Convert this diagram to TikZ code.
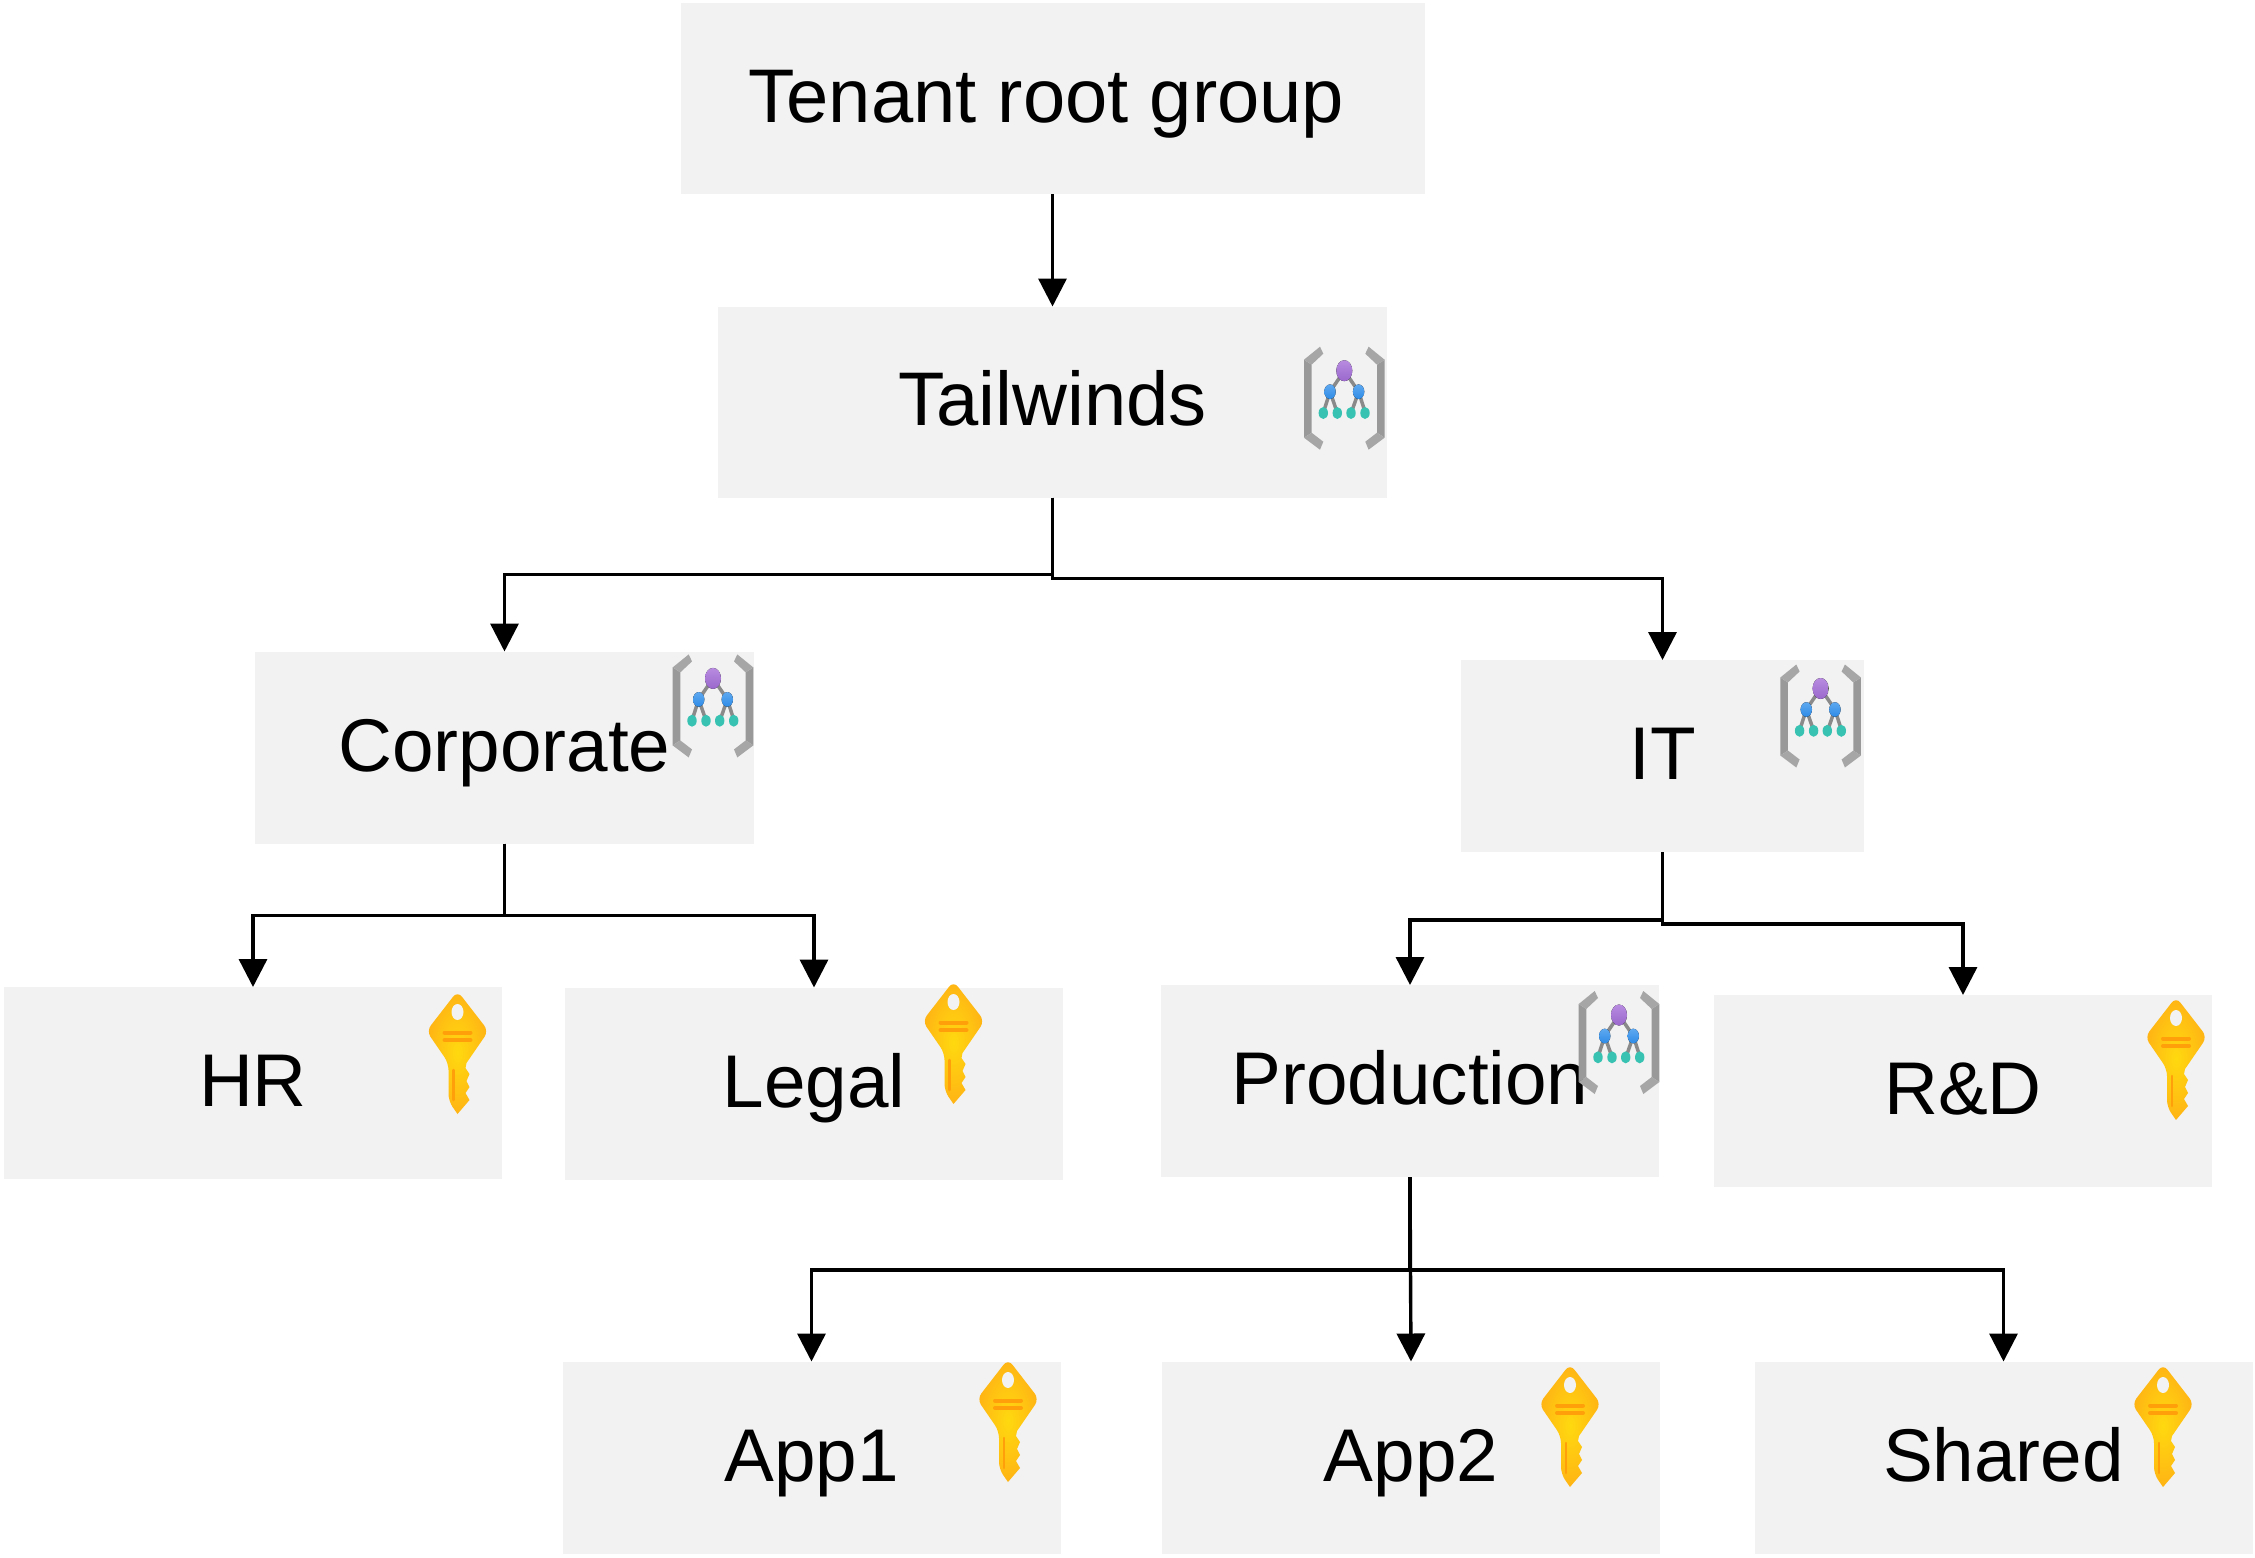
\documentclass[tikz,border=0pt]{standalone}
\usepackage{fontspec}
\setmainfont{Liberation Sans}
\usetikzlibrary{arrows.meta}

\definecolor{boxgray}{HTML}{F2F2F2}
\definecolor{keylight}{HTML}{FFD90F}
\definecolor{keydark}{HTML}{FFB414}
\definecolor{keyslot}{HTML}{FFA00A}
\definecolor{brackgray}{HTML}{999999}
\definecolor{armgray}{HTML}{A6A6A6}
\definecolor{linkgray}{HTML}{8A8A8A}
\definecolor{dottop}{HTML}{B88BE0}
\definecolor{dotbottom}{HTML}{9A68CC}
\definecolor{bluetop}{HTML}{5EA8F0}
\definecolor{bluebottom}{HTML}{2F8CE6}
\definecolor{dotteal}{HTML}{37C2B1}

\tikzset{
    groupbox/.style={fill=boxgray, inner sep=0pt, outer sep=0pt, minimum width=498pt, minimum height=192pt,
        font=\fontsize{74.7}{90}\selectfont, text height=61pt, text depth=14pt},
    bigbox/.style={groupbox, font=\fontsize{76}{92}\selectfont},
    flow/.style={line width=3.4pt, -{Triangle[length=28pt,width=28pt]}},
    keyicon/.pic={
        \draw[rounded corners=7pt, draw=none, inner color=keylight, outer color=keydark]
            (0,-40) -- (-31,0) -- (-9,32) -- (-9,70) [sharp corners] -- (0,83) -- (12,69)
            -- (8,62) -- (12,56) -- (9,50) -- (12,43) -- (8,37) -- (9,32) [rounded corners=7pt] -- (31,0) -- cycle;
        \fill[white!95!black] (0,-19) ellipse (6 and 8);
        \draw[keyslot, line width=4pt, line cap=round] (-13,1.5) -- (13,1.5);
        \draw[keyslot, line width=4pt, line cap=round] (-13,9) -- (13,9);
        \draw[keyslot, line width=2.5pt, line cap=round] (-4,39) -- (-4,69);
    },
    mgicon/.pic={
        % Brackets
        \foreach \s in {1,-1} {
            \fill[brackgray] (\s*-40.3,-37) -- (\s*-32.7,-32) -- (\s*-32.7,36) -- (\s*-40.3,41) -- cycle;
            \fill[armgray] (\s*-24.3,-50) -- (\s*-40.3,-37) -- (\s*-32.7,-32) -- (\s*-21,-43) -- cycle;
            \fill[armgray] (\s*-24.3,53) -- (\s*-40.3,41) -- (\s*-32.7,36) -- (\s*-21,45) -- cycle;
        }
        % Links
        \draw[linkgray, line width=3.5pt] (-14.3,-5) -- (0,-26) -- (14.3,-5);
        \draw[linkgray, line width=3.5pt] (-21,16) -- (-14.3,-5) -- (-7,16);
        \draw[linkgray, line width=3.5pt] (21,16) -- (14.3,-5) -- (7,16);
        % Dots
        \fill[top color=dottop, bottom color=dotbottom] (0,-26) ellipse (8 and 10.5);
        \fill[top color=bluetop, bottom color=bluebottom] (-14.3,-5) ellipse (5.7 and 7.3);
        \fill[top color=bluetop, bottom color=bluebottom] (14.3,-5) ellipse (5.7 and 7.3);
        \fill[dotteal] (-21,16.3) ellipse (4.7 and 6);
        \fill[dotteal] (-7,16.3) ellipse (4.7 and 6);
        \fill[dotteal] (6.7,16.3) ellipse (4.7 and 6);
        \fill[dotteal] (20.7,16.3) ellipse (4.7 and 6);
    }
}

\begin{document}
\begin{tikzpicture}[x=1pt,y=-1pt]
    \useasboundingbox (0,0) rectangle (2255,1558);

    % Boxes
    \node[bigbox, minimum width=744pt, minimum height=191pt] (root) at (1052.5,98.5) {Tenant root group\hspace*{12pt}};
    \node[bigbox, minimum width=669pt, minimum height=191pt] (tailwinds) at (1052.5,402) {Tailwinds};
    \node[groupbox, minimum width=499pt] (corporate) at (504.5,747.5) {Corporate};
    \node[groupbox, minimum width=403pt] (it) at (1662.5,756) {IT};
    \node[groupbox] (hr) at (253,1083) {HR};
    \node[groupbox] (legal) at (814,1083.5) {Legal};
    \node[groupbox] (production) at (1410,1081) {Production};
    \node[groupbox] (rnd) at (1963,1091) {R\&D};
    \node[groupbox] (appone) at (811.5,1457.5) {App1};
    \node[groupbox] (apptwo) at (1411,1457.5) {App2};
    \node[groupbox] (shared) at (2003.5,1457.5) {Shared};

    % Connectors
    \draw[flow] (root.south) -- (tailwinds.north);
    \draw[flow] (tailwinds.south) -- ++(0,77) -| (corporate.north);
    \draw[flow] (tailwinds.south) -- ++(0,81) -| (it.north);
    \draw[flow] (corporate.south) -- ++(0,72) -| (hr.north);
    \draw[flow] (corporate.south) -- ++(0,72) -| (legal.north);
    \draw[flow] (it.south) -- ++(0,68) -| (production.north);
    \draw[flow] (it.south) -- ++(0,72) -| (rnd.north);
    \draw[flow] (production.south) -- ++(0,93) -| (appone.north);
    \draw[flow] (production.south) -- (apptwo.north);
    \draw[flow] (production.south) -- ++(0,93) -| (shared.north);

    % Icons
    \pic at (1344.3,396.7) {mgicon};
    \pic at (713,704.4) {mgicon};
    \pic at (1820.6,714.5) {mgicon};
    \pic at (1619,1041) {mgicon};
    \pic at (457.5,1031) {keyicon};
    \pic at (953.5,1021) {keyicon};
    \pic at (2176,1037) {keyicon};
    \pic at (1008,1399) {keyicon};
    \pic at (1570,1404) {keyicon};
    \pic at (2163,1404) {keyicon};
\end{tikzpicture}
\end{document}
